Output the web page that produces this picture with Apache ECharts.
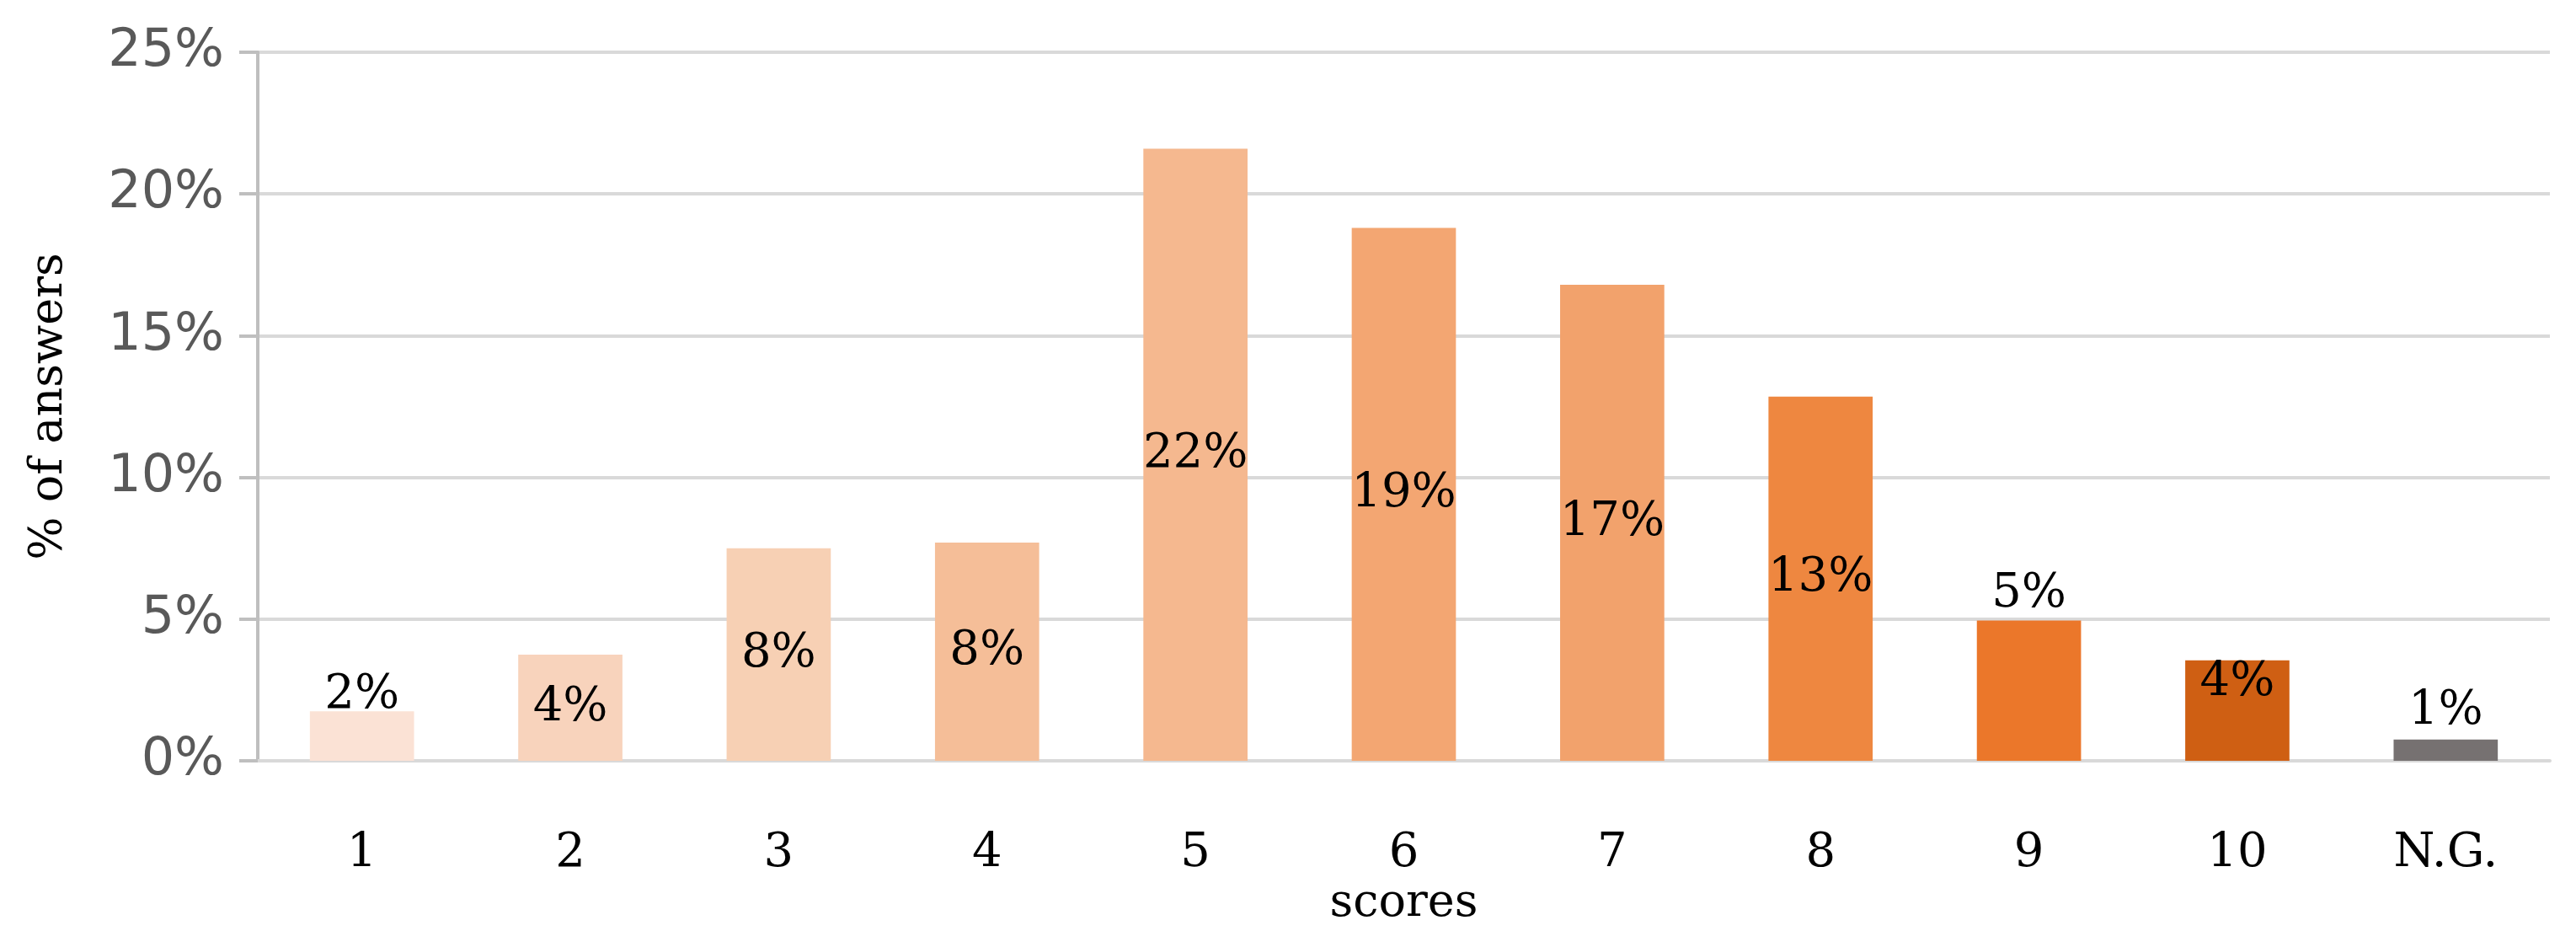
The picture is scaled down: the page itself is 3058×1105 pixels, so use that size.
<!DOCTYPE html>
<html>
<head>
<meta charset="utf-8">
<script src="https://cdn.jsdelivr.net/npm/echarts@6/dist/echarts.min.js"></script>
<style>html,body{margin:0;padding:0;background:#fff}#box{width:3058px;height:1105px}</style>
</head>
<body>
<div id="box"></div>
<script>
var categories = ['1', '2', '3', '4', '5', '6', '7', '8', '9', '10', 'N.G.'];
var values = [1.75, 3.75, 7.5, 7.7, 21.6, 18.8, 16.8, 12.85, 4.95, 3.55, 0.75];
var labels = ['2%', '4%', '8%', '8%', '22%', '19%', '17%', '13%', '5%', '4%', '1%'];
var yTicks = [0, 5, 10, 15, 20, 25];

var colors = ['#FBE2D5', '#F8D3BC', '#F7D0B4', '#F5BE98', '#F5B88F', '#F3A672',
              '#F2A26C', '#EE8740', '#EB772A', '#CF5F13', '#767171'];
// where each label sits (Excel-like placement)
var labelPos = ['top', 'inside', 'inside', 'inside', 'inside', 'inside',
                'inside', 'inside', 'top', 'top', 'top'];
var labelOff = [[0, 14], [0, 0], [0, 0], [0, 0], [0, 0], [0, 0],
                [0, 0], [0, 0], [0, 2], [0, 60], [0, 0]];

var myChart = echarts.init(document.getElementById('box'));

var option = {
    grid: {left: 306, right: 31, top: 62, bottom: 196},
    xAxis: {
        type: 'category',
        data: categories,
        name: 'scores',
        nameLocation: 'middle',
        nameGap: 128,
        nameTextStyle: {fontFamily: 'DejaVu Serif', fontSize: 54, color: '#000'},
        axisLine: {lineStyle: {color: '#D9D9D9', width: 4}},
        axisTick: {show: false},
        axisLabel: {margin: 82, fontFamily: 'DejaVu Serif', fontSize: 56, color: '#000'}
    },
    yAxis: {
        type: 'value',
        min: 0,
        max: 25,
        interval: 5,
        name: '% of answers',
        nameLocation: 'middle',
        nameGap: 220,
        nameTextStyle: {fontFamily: 'DejaVu Serif', fontSize: 54, color: '#000'},
        axisLine: {show: true, lineStyle: {color: '#BFBFBF', width: 4}},
        axisTick: {show: true, length: 22, lineStyle: {color: '#BFBFBF', width: 4}},
        splitLine: {lineStyle: {color: '#D9D9D9', width: 4}},
        axisLabel: {
            margin: 40,
            fontFamily: 'DejaVu Sans',
            fontSize: 62,
            color: '#595959',
            formatter: function (v) { return v + '%'; }
        }
    },
    series: [{
        type: 'bar',
        barWidth: '50%',
        data: values.map(function (v, i) {
            return {
                value: v,
                itemStyle: {color: colors[i]},
                label: {position: labelPos[i], offset: labelOff[i]}
            };
        }),
        label: {
            show: true,
            fontFamily: 'DejaVu Serif',
            fontSize: 56,
            color: '#000',
            formatter: function (p) { return labels[p.dataIndex]; }
        }
    }]
};

myChart.setOption(option);
</script>
</body>
</html>
